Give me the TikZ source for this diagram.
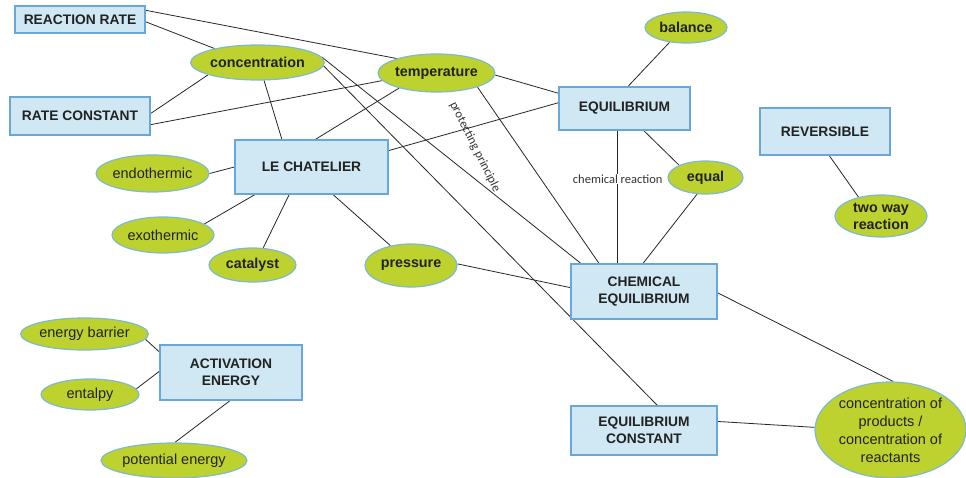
\documentclass[tikz,border=0pt]{standalone}
\usepackage{fontspec}
\setmainfont{Liberation Sans}
\newfontfamily\labelfont{Carlito}
\usetikzlibrary{shapes.geometric}
\pgfdeclarelayer{background}
\pgfsetlayers{background,main}
\definecolor{boxfill}{HTML}{CFE8F4}
\definecolor{boxline}{HTML}{6AA6D6}
\definecolor{ellfill}{HTML}{BDD22E}
\definecolor{ellline}{HTML}{7DB9CF}
\definecolor{txt}{HTML}{222222}
\begin{document}
\begin{tikzpicture}[x=1pt,y=-1pt,
 box/.style={draw=boxline, line width=1.2pt, fill=boxfill, rectangle, inner sep=0pt, align=center, font=\fontsize{13.8}{17}\selectfont\bfseries, text=txt},
 ell/.style={draw=ellline, line width=1.2pt, fill=ellfill, ellipse, inner sep=0pt, align=center, font=\fontsize{14.3}{17}\selectfont\bfseries, text=txt},
 ellr/.style={ell, font=\fontsize{14.5}{18}\selectfont},
 link/.style={draw=black!85, line width=0.8pt},
 lbl/.style={font=\labelfont\fontsize{12.5}{14}\selectfont, text=black!80, inner sep=1pt}]
\useasboundingbox (0,0) rectangle (966,478);
\node[box, minimum width=130pt, minimum height=27pt] (rr) at (80,19.5) {REACTION RATE};
\node[box, minimum width=140pt, minimum height=38pt] (rc) at (80,116) {RATE CONSTANT};
\node[ell, minimum width=117pt, minimum height=35pt] (conc) at (257.5,62.5) {concentration};
\node[ell, minimum width=107pt, minimum height=38pt] (temp) at (436.5,73) {temperature};
\node[ell, minimum width=82pt, minimum height=31pt] (bal) at (686,27.5) {balance};
\node[box, minimum width=131pt, minimum height=43pt] (eq) at (624.5,108.5) {EQUILIBRIUM};
\node[box, minimum width=130pt, minimum height=47pt] (rev) at (825,131.5) {REVERSIBLE};
\node[box, minimum width=153pt, minimum height=54pt] (lc) at (311.5,167) {LE CHATELIER};
\node[ellr, minimum width=105pt, minimum height=37pt] (endo) at (152.5,173.5) {endothermic};
\node[ellr, minimum width=102pt, minimum height=36pt] (exo) at (163,235) {exothermic};
\node[ell, minimum width=87pt, minimum height=34pt] (cat) at (252.5,265) {catalyst};
\node[ell, minimum width=92pt, minimum height=43pt] (pres) at (411,265.5) {pressure};
\node[ell, minimum width=75pt, minimum height=33pt] (equal) at (705.5,177.5) {equal};
\node[ell, minimum width=92pt, minimum height=42pt] (two) at (881,216) {two way\\reaction};
\node[box, minimum width=146pt, minimum height=55pt] (ce) at (644,291.5) {CHEMICAL\\EQUILIBRIUM};
\node[box, minimum width=142pt, minimum height=55pt] (ae) at (231,372.5) {ACTIVATION\\ENERGY};
\node[ellr, minimum width=107pt, minimum height=32pt] (eb) at (84.5,334) {energy barrier};
\node[ellr, minimum width=98pt, minimum height=31pt] (ent) at (90,394.5) {entalpy};
\node[ellr, minimum width=114pt, minimum height=35pt] (pe) at (174,460.5) {potential energy};
\node[box, minimum width=146pt, minimum height=49pt] (ec) at (644,430.5) {EQUILIBRIUM\\CONSTANT};
\node[ellr, minimum width=151pt, minimum height=96pt] (cp) at (890.5,430) {concentration of\\products /\\concentration of\\reactants};
\node[lbl, rotate=-63.5] (pp) at (475,147) {protecting principle};
\begin{pgfonlayer}{background}
\draw[link] (rr.-2) -- (conc.162);
\draw[link] (rr.8) -- (temp.160);
\draw[link] (rc.2) -- (conc.194);
\draw[link] (rc.-7) -- (temp.188);
\draw[link] (conc.-70) -- (lc.137);
\draw[link] (temp.202) -- (lc.82);
\draw[link] (lc.12) -- (eq.175);
\draw[link] (temp.-2) -- (eq.167);
\draw[link] (conc.5) -- (ce.156);
\draw[link] (conc.-3) -- (ec.62);
\draw[link] (temp.-19) -- (ce.148);
\draw[link] (eq.81) -- (bal.222);
\draw[link] (eq.253) -- (eq.253 |- ce.north) node[lbl, pos=0.365, fill=white] (cr) {chemical reaction};
\draw[link] (eq.-49) -- (equal.155);
\draw[link] (equal.243) -- (ce.92);
\draw[link] (pres.2) -- (ce.177);
\draw[link] (ce.-1) -- (cp.87);
\draw[link] (ec.7) -- (cp.178);
\draw[link] (rev.-80) -- (two.140);
\draw[link] (lc.180) -- (endo.0);
\draw[link] (lc.206) -- (exo.15);
\draw[link] (lc.231) -- (cat.58);
\draw[link] (lc.-52) -- (pres.136);
\draw[link] (ae.164) -- (eb.-5);
\draw[link] (ae.179) -- (ent.7);
\draw[link] (ae.-92) -- (pe.87);
\end{pgfonlayer}
\end{tikzpicture}
\end{document}
